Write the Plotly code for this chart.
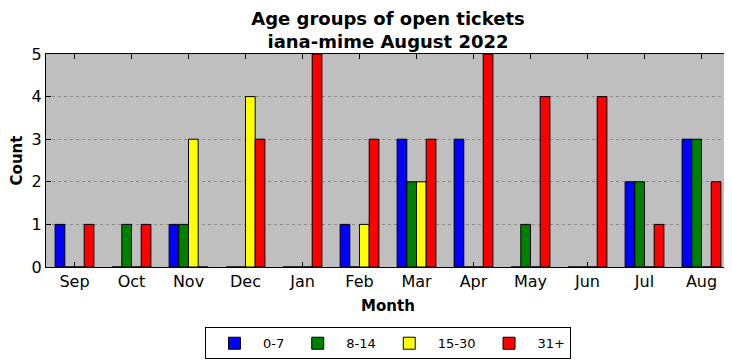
import plotly.graph_objects as go

months = ["Sep", "Oct", "Nov", "Dec", "Jan", "Feb", "Mar", "Apr", "May", "Jun", "Jul", "Aug"]
age_0_7 = [1, 0, 1, 0, 0, 1, 3, 3, 0, 0, 2, 3]
age_8_14 = [0, 1, 1, 0, 0, 0, 2, 0, 1, 0, 2, 3]
age_15_30 = [0, 0, 3, 4, 0, 1, 2, 0, 0, 0, 0, 0]
age_31_plus = [1, 1, 0, 3, 5, 3, 3, 5, 4, 4, 1, 2]

series = [("0-7", age_0_7, "#0000ff"), ("8-14", age_8_14, "#008000"),
          ("15-30", age_15_30, "#ffff00"), ("31+", age_31_plus, "#ff0000")]

fig = go.Figure()
for name, vals, col in series:
    fig.add_trace(go.Bar(x=months, y=vals, name=name,
                         marker=dict(color=col, line=dict(color="black", width=1))))

font = "DejaVu Sans, sans-serif"
fig.update_layout(
    width=732, height=361,
    margin=dict(l=38, r=10, t=46, b=99),
    barmode="group", bargap=0.32, bargroupgap=0,
    paper_bgcolor="white", plot_bgcolor="#bfbfbf",
    font=dict(family=font, size=16, color="black"),
    title=dict(text="<b>Age groups of open tickets<br>iana-mime August 2022</b>",
               x=0.5, xref="paper", xanchor="center",
               yref="container", y=1 - 17 / 361, yanchor="middle",
               font=dict(size=18, family=font)),
    legend=dict(orientation="h", x=0.5, xanchor="center", y=-0.283, yanchor="top",
                bordercolor="black", borderwidth=1, bgcolor="white",
                font=dict(size=13), itemwidth=47, tracegroupgap=0),
    xaxis=dict(title=dict(text="<b>Month</b>", font=dict(size=15), standoff=10),
               automargin=False,
               showline=True, linecolor="black", linewidth=1, mirror="ticks",
               ticks="inside", ticklen=5, tickcolor="black",
               range=[-0.5, 11.5], showgrid=False),
    yaxis=dict(title=dict(text="<b>Count</b>", font=dict(size=15), standoff=5),
               automargin=False,
               showline=True, linecolor="black", linewidth=1, mirror="ticks",
               ticks="inside", ticklen=5, tickcolor="black",
               range=[0, 5], dtick=1, showgrid=True, gridcolor="#8a8a8a",
               griddash="dot", gridwidth=1, zeroline=False),
)

fig.write_html("out.html")
